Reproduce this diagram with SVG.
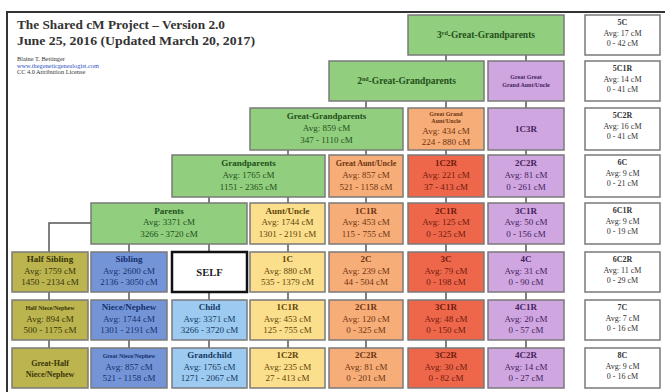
<svg xmlns="http://www.w3.org/2000/svg" width="665" height="392" viewBox="0 0 665 392">
<style>
text{font-family:"Liberation Serif","DejaVu Serif",serif;text-anchor:middle}
.b{stroke:#7a7a7a;stroke-width:1.5}
.gr{fill:#91ce7e}.or{fill:#f7ad78}.rd{fill:#ee674b}.pu{fill:#cfa6e0}.ye{fill:#fcdf8c}.ol{fill:#bbb44f}.bl{fill:#7395d8}.lb{fill:#9ccaf0}.wh{fill:#ffffff}
.tgr{fill:#24501a}.tor{fill:#6e3410}.trd{fill:#6e1a0c}.tpu{fill:#45225e}.tye{fill:#5e4508}.tol{fill:#3a3608}.tbl{fill:#15306e}.tlb{fill:#163a62}.twh{fill:#333}
.l{font-size:9px;font-weight:bold}
.v{font-size:9px}
.s{font-size:6px;font-weight:bold}
.wl{font-size:8px;font-weight:bold}
.wv{font-size:8px}
.c line,.c path{stroke:#555;stroke-width:1.5;fill:none}
</style>
<rect width="665" height="392" fill="#fff"/>
<path d="M7,392 V12 H665" fill="none" stroke="#333" stroke-width="2"/>
<g id="title">
<text x="17" y="29" textLength="208" lengthAdjust="spacingAndGlyphs" style="font-size:13.5px;font-weight:bold;text-anchor:start" fill="#333">The Shared cM Project – Version 2.0</text>
<text x="17" y="45" textLength="238" lengthAdjust="spacingAndGlyphs" style="font-size:13.5px;font-weight:bold;text-anchor:start" fill="#333">June 25, 2016 (Updated March 20, 2017)</text>
<text x="17" y="61" style="font-size:6.3px;text-anchor:start" fill="#333">Blaine T. Bettinger</text>
<text x="17" y="67.5" style="font-size:6.3px;text-anchor:start" fill="#2a4fc0">www.thegeneticgenealogist.com</text>
<text x="17" y="74" style="font-size:6.3px;text-anchor:start" fill="#333">CC 4.0 Attribution License</text>
</g>
<g class="c" id="connectors">
<line x1="446" y1="55" x2="446" y2="61"/><line x1="526" y1="55" x2="526" y2="61"/>
<line x1="366" y1="101" x2="366" y2="108"/><line x1="446" y1="101" x2="446" y2="108"/><line x1="526" y1="101" x2="526" y2="108"/>
<line x1="288" y1="150" x2="288" y2="155"/><line x1="366" y1="150" x2="366" y2="155"/><line x1="446" y1="150" x2="446" y2="155"/><line x1="526" y1="150" x2="526" y2="155"/>
<line x1="209" y1="197" x2="209" y2="203"/><line x1="288" y1="197" x2="288" y2="203"/><line x1="366" y1="197" x2="366" y2="203"/><line x1="446" y1="197" x2="446" y2="203"/><line x1="526" y1="197" x2="526" y2="203"/>
<line x1="129" y1="244" x2="129" y2="252"/><line x1="209" y1="244" x2="209" y2="252"/><line x1="288" y1="244" x2="288" y2="252"/><line x1="366" y1="244" x2="366" y2="252"/><line x1="446" y1="244" x2="446" y2="252"/><line x1="526" y1="244" x2="526" y2="252"/>
<path d="M91,223 H49 V252"/>
<line x1="49" y1="292" x2="49" y2="300"/><line x1="129" y1="292" x2="129" y2="300"/><line x1="209" y1="292" x2="209" y2="300"/><line x1="288" y1="292" x2="288" y2="300"/><line x1="366" y1="292" x2="366" y2="300"/><line x1="446" y1="292" x2="446" y2="300"/><line x1="526" y1="292" x2="526" y2="300"/>
<line x1="49" y1="340" x2="49" y2="348"/><line x1="129" y1="340" x2="129" y2="348"/><line x1="209" y1="340" x2="209" y2="348"/><line x1="288" y1="340" x2="288" y2="348"/><line x1="366" y1="340" x2="366" y2="348"/><line x1="446" y1="340" x2="446" y2="348"/><line x1="526" y1="340" x2="526" y2="348"/>
</g>
<!-- row 1 -->
<g id="gg3"><rect class="b gr" x="408" y="15" width="156" height="40"/><text class="l tgr" x="486" y="38" style="font-size:9.5px">3<tspan font-size="6" dy="-3.5">rd</tspan><tspan dy="3.5">-Great-Grandparents</tspan></text></g>
<g id="w5c"><rect class="b wh" x="585" y="15" width="75" height="40"/><text class="wl twh" x="622.5" y="25">5C</text><text class="wv twh" x="622.5" y="36">Avg: 17 cM</text><text class="wv twh" x="622.5" y="46">0 - 42 cM</text></g>
<!-- row 2 -->
<g id="gg2"><rect class="b gr" x="329" y="61" width="155" height="40"/><text class="l tgr" x="406.5" y="84" style="font-size:9.5px">2<tspan font-size="6" dy="-3.5">nd</tspan><tspan dy="3.5">-Great-Grandparents</tspan></text></g>
<g id="ggg-aunt"><rect class="b pu" x="488" y="61" width="76" height="40"/><text class="s tpu" x="526" y="79">Great Great</text><text class="s tpu" x="526" y="87">Grand Aunt/Uncle</text></g>
<g id="w5c1r"><rect class="b wh" x="585" y="61" width="75" height="40"/><text class="wl twh" x="622.5" y="71">5C1R</text><text class="wv twh" x="622.5" y="82">Avg: 14 cM</text><text class="wv twh" x="622.5" y="92">0 - 41 cM</text></g>
<!-- row 3 -->
<g id="gg"><rect class="b gr" x="250" y="108" width="153" height="42"/><text class="l tgr" x="326.5" y="119">Great-Grandparents</text><text class="v tgr" x="326.5" y="131">Avg: 859 cM</text><text class="v tgr" x="326.5" y="143">347 - 1110 cM</text></g>
<g id="gg-aunt"><rect class="b or" x="408" y="108" width="76" height="42"/><text class="s tor" x="446" y="115.5">Great Grand</text><text class="s tor" x="446" y="123">Aunt/Uncle</text><text class="v tor" x="446" y="134">Avg: 434 cM</text><text class="v tor" x="446" y="145">224 - 880 cM</text></g>
<g id="u1c3r"><rect class="b pu" x="488" y="108" width="76" height="42"/><text class="l tpu" x="526" y="132">1C3R</text></g>
<g id="w5c2r"><rect class="b wh" x="585" y="108" width="75" height="42"/><text class="wl twh" x="622.5" y="118">5C2R</text><text class="wv twh" x="622.5" y="129">Avg: 16 cM</text><text class="wv twh" x="622.5" y="139">0 - 41 cM</text></g>
<!-- row 4 -->
<g id="gp"><rect class="b gr" x="172" y="155" width="153" height="42"/><text class="l tgr" x="248.5" y="166">Grandparents</text><text class="v tgr" x="248.5" y="178">Avg: 1765 cM</text><text class="v tgr" x="248.5" y="190">1151 - 2365 cM</text></g>
<g id="g-aunt"><rect class="b or" x="329" y="155" width="74" height="42"/><text class="l tor" x="366" y="166" style="font-size:8px">Great Aunt/Uncle</text><text class="v tor" x="366" y="178">Avg: 857 cM</text><text class="v tor" x="366" y="190">521 - 1158 cM</text></g>
<g id="u1c2r"><rect class="b rd" x="408" y="155" width="76" height="42"/><text class="l trd" x="446" y="166">1C2R</text><text class="v trd" x="446" y="178">Avg: 221 cM</text><text class="v trd" x="446" y="190">37 - 413 cM</text></g>
<g id="u2c2r"><rect class="b pu" x="488" y="155" width="76" height="42"/><text class="l tpu" x="526" y="166">2C2R</text><text class="v tpu" x="526" y="178">Avg: 81 cM</text><text class="v tpu" x="526" y="190">0 - 261 cM</text></g>
<g id="w6c"><rect class="b wh" x="585" y="155" width="75" height="42"/><text class="wl twh" x="622.5" y="165">6C</text><text class="wv twh" x="622.5" y="176">Avg: 9 cM</text><text class="wv twh" x="622.5" y="186">0 - 21 cM</text></g>
<!-- row 5 -->
<g id="parents"><rect class="b gr" x="91" y="203" width="156" height="41"/><text class="l tgr" x="169" y="213.5">Parents</text><text class="v tgr" x="169" y="225">Avg: 3371 cM</text><text class="v tgr" x="169" y="236.5">3266 - 3720 cM</text></g>
<g id="aunt"><rect class="b ye" x="250" y="203" width="75" height="41"/><text class="l tye" x="287.5" y="213.5">Aunt/Uncle</text><text class="v tye" x="287.5" y="225">Avg: 1744 cM</text><text class="v tye" x="287.5" y="236.5">1301 - 2191 cM</text></g>
<g id="u1c1r"><rect class="b or" x="329" y="203" width="74" height="41"/><text class="l tor" x="366" y="213.5">1C1R</text><text class="v tor" x="366" y="225">Avg: 453 cM</text><text class="v tor" x="366" y="236.5">115 - 755 cM</text></g>
<g id="u2c1r"><rect class="b rd" x="408" y="203" width="76" height="41"/><text class="l trd" x="446" y="213.5">2C1R</text><text class="v trd" x="446" y="225">Avg: 125 cM</text><text class="v trd" x="446" y="236.5">0 - 325 cM</text></g>
<g id="u3c1r"><rect class="b pu" x="488" y="203" width="76" height="41"/><text class="l tpu" x="526" y="213.5">3C1R</text><text class="v tpu" x="526" y="225">Avg: 50 cM</text><text class="v tpu" x="526" y="236.5">0 - 156 cM</text></g>
<g id="w6c1r"><rect class="b wh" x="585" y="203" width="75" height="41"/><text class="wl twh" x="622.5" y="213">6C1R</text><text class="wv twh" x="622.5" y="224">Avg: 9 cM</text><text class="wv twh" x="622.5" y="234">0 - 19 cM</text></g>
<!-- row 6 -->
<g id="half-sib"><rect class="b ol" x="12" y="252" width="76" height="40"/><text class="l tol" x="50" y="262">Half Sibling</text><text class="v tol" x="50" y="273.5">Avg: 1759 cM</text><text class="v tol" x="50" y="285">1450 - 2134 cM</text></g>
<g id="sibling"><rect class="b bl" x="91" y="252" width="76" height="40"/><text class="l tbl" x="129" y="262">Sibling</text><text class="v tbl" x="129" y="273.5">Avg: 2600 cM</text><text class="v tbl" x="129" y="285">2136 - 3050 cM</text></g>
<g id="self"><rect x="172" y="252" width="75" height="40" fill="#fff" stroke="#111" stroke-width="2.5"/><text class="l" x="209.5" y="276" fill="#222" style="font-size:10.5px">SELF</text></g>
<g id="c1"><rect class="b ye" x="250" y="252" width="75" height="40"/><text class="l tye" x="287.5" y="262">1C</text><text class="v tye" x="287.5" y="273.5">Avg: 880 cM</text><text class="v tye" x="287.5" y="285">535 - 1379 cM</text></g>
<g id="c2"><rect class="b or" x="329" y="252" width="74" height="40"/><text class="l tor" x="366" y="262">2C</text><text class="v tor" x="366" y="273.5">Avg: 239 cM</text><text class="v tor" x="366" y="285">44 - 504 cM</text></g>
<g id="c3"><rect class="b rd" x="408" y="252" width="76" height="40"/><text class="l trd" x="446" y="262">3C</text><text class="v trd" x="446" y="273.5">Avg: 79 cM</text><text class="v trd" x="446" y="285">0 - 198 cM</text></g>
<g id="c4"><rect class="b pu" x="488" y="252" width="76" height="40"/><text class="l tpu" x="526" y="262">4C</text><text class="v tpu" x="526" y="273.5">Avg: 31 cM</text><text class="v tpu" x="526" y="285">0 - 90 cM</text></g>
<g id="w6c2r"><rect class="b wh" x="585" y="252" width="75" height="40"/><text class="wl twh" x="622.5" y="262">6C2R</text><text class="wv twh" x="622.5" y="273">Avg: 11 cM</text><text class="wv twh" x="622.5" y="283">0 - 29 cM</text></g>
<!-- row 7 -->
<g id="half-niece"><rect class="b ol" x="12" y="300" width="76" height="40"/><text class="s tol" x="50" y="310">Half Niece/Nephew</text><text class="v tol" x="50" y="321.5">Avg: 894 cM</text><text class="v tol" x="50" y="333">500 - 1175 cM</text></g>
<g id="niece"><rect class="b bl" x="91" y="300" width="76" height="40"/><text class="l tbl" x="129" y="310">Niece/Nephew</text><text class="v tbl" x="129" y="321.5">Avg: 1744 cM</text><text class="v tbl" x="129" y="333">1301 - 2191 cM</text></g>
<g id="child"><rect class="b lb" x="172" y="300" width="75" height="40"/><text class="l tlb" x="209.5" y="310">Child</text><text class="v tlb" x="209.5" y="321.5">Avg: 3371 cM</text><text class="v tlb" x="209.5" y="333">3266 - 3720 cM</text></g>
<g id="l1c1r"><rect class="b ye" x="250" y="300" width="75" height="40"/><text class="l tye" x="287.5" y="310">1C1R</text><text class="v tye" x="287.5" y="321.5">Avg: 453 cM</text><text class="v tye" x="287.5" y="333">125 - 755 cM</text></g>
<g id="l2c1r"><rect class="b or" x="329" y="300" width="74" height="40"/><text class="l tor" x="366" y="310">2C1R</text><text class="v tor" x="366" y="321.5">Avg: 120 cM</text><text class="v tor" x="366" y="333">0 - 325 cM</text></g>
<g id="l3c1r"><rect class="b rd" x="408" y="300" width="76" height="40"/><text class="l trd" x="446" y="310">3C1R</text><text class="v trd" x="446" y="321.5">Avg: 48 cM</text><text class="v trd" x="446" y="333">0 - 150 cM</text></g>
<g id="l4c1r"><rect class="b pu" x="488" y="300" width="76" height="40"/><text class="l tpu" x="526" y="310">4C1R</text><text class="v tpu" x="526" y="321.5">Avg: 20 cM</text><text class="v tpu" x="526" y="333">0 - 57 cM</text></g>
<g id="w7c"><rect class="b wh" x="585" y="300" width="75" height="40"/><text class="wl twh" x="622.5" y="310">7C</text><text class="wv twh" x="622.5" y="321">Avg: 7 cM</text><text class="wv twh" x="622.5" y="331">0 - 16 cM</text></g>
<!-- row 8 -->
<g id="great-half-niece"><rect class="b ol" x="12" y="348" width="76" height="40"/><text class="tol" x="50" y="366" style="font-size:8px;font-weight:bold">Great-Half</text><text class="tol" x="50" y="377" style="font-size:8px;font-weight:bold">Niece/Nephew</text></g>
<g id="great-niece"><rect class="b bl" x="91" y="348" width="76" height="40"/><text class="s tbl" x="129" y="358">Great Niece/Nephew</text><text class="v tbl" x="129" y="369.5">Avg: 857 cM</text><text class="v tbl" x="129" y="381">521 - 1158 cM</text></g>
<g id="grandchild"><rect class="b lb" x="172" y="348" width="75" height="40"/><text class="l tlb" x="209.5" y="358">Grandchild</text><text class="v tlb" x="209.5" y="369.5">Avg: 1765 cM</text><text class="v tlb" x="209.5" y="381">1271 - 2067 cM</text></g>
<g id="l1c2r"><rect class="b ye" x="250" y="348" width="75" height="40"/><text class="l tye" x="287.5" y="358">1C2R</text><text class="v tye" x="287.5" y="369.5">Avg: 235 cM</text><text class="v tye" x="287.5" y="381">27 - 413 cM</text></g>
<g id="l2c2r"><rect class="b or" x="329" y="348" width="74" height="40"/><text class="l tor" x="366" y="358">2C2R</text><text class="v tor" x="366" y="369.5">Avg: 81 cM</text><text class="v tor" x="366" y="381">0 - 201 cM</text></g>
<g id="l3c2r"><rect class="b rd" x="408" y="348" width="76" height="40"/><text class="l trd" x="446" y="358">3C2R</text><text class="v trd" x="446" y="369.5">Avg: 30 cM</text><text class="v trd" x="446" y="381">0 - 82 cM</text></g>
<g id="l4c2r"><rect class="b pu" x="488" y="348" width="76" height="40"/><text class="l tpu" x="526" y="358">4C2R</text><text class="v tpu" x="526" y="369.5">Avg: 14 cM</text><text class="v tpu" x="526" y="381">0 - 27 cM</text></g>
<g id="w8c"><rect class="b wh" x="585" y="348" width="75" height="40"/><text class="wl twh" x="622.5" y="358">8C</text><text class="wv twh" x="622.5" y="369">Avg: 9 cM</text><text class="wv twh" x="622.5" y="379">0 - 16 cM</text></g>
</svg>
